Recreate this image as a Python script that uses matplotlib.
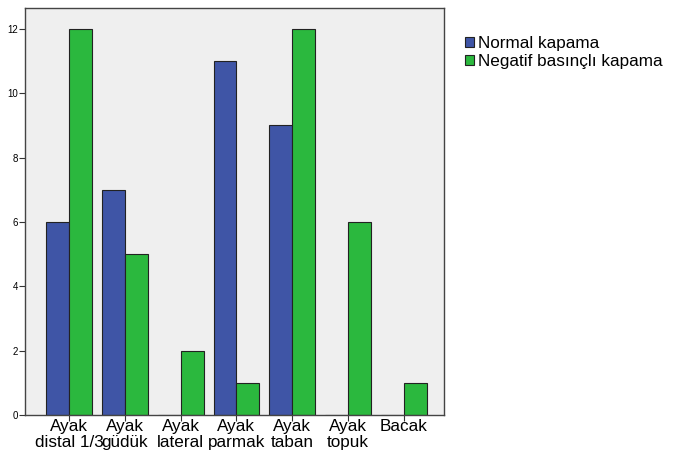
import numpy as np
import matplotlib
matplotlib.use("Agg")
import matplotlib.pyplot as plt

plt.rcParams['font.family'] = ['Liberation Sans', 'DejaVu Sans']

categories = ["Ayak\ndistal 1/3", "Ayak\ngüdük", "Ayak\nlateral", "Ayak\nparmak",
              "Ayak\ntaban", "Ayak\ntopuk", "Bacak"]
normal = [6, 7, 0, 11, 9, 0, 0]
negatif = [12, 5, 2, 1, 12, 6, 1]
series_names = ["Normal kapama", "Negatif basınçlı kapama"]

fig = plt.figure(figsize=(6.75, 4.59), dpi=100)
ax = fig.add_axes([25 / 675, 1 - 415 / 459, 419 / 675, 407 / 459])
ax.set_facecolor("#efefef")

x = np.arange(len(categories))
w = 0.41
ax.bar(x - w / 2, normal, w, color="#3f55a6", edgecolor="#222222", linewidth=0.8,
       label=series_names[0])
ax.bar(x + w / 2, negatif, w, color="#2bb83e", edgecolor="#222222", linewidth=0.8,
       label=series_names[1])

ax.set_xlim(-0.79, 6.72)
ax.set_ylim(0, 12.65)
ax.set_yticks([0, 2, 4, 6, 8, 10, 12])
ax.set_xticks(x)
ax.set_xticklabels(categories, fontsize=12.3, linespacing=1.1)
ax.tick_params(axis="y", labelsize=7, length=4, width=0.8, color="#333333", pad=1)
ax.tick_params(axis="x", length=4, width=0.8, color="#333333", pad=-1)
for s in ax.spines.values():
    s.set_color("#444444")
    s.set_linewidth(1.0)

leg = fig.legend(loc="upper left", bbox_to_anchor=(458 / 675, 1 - 29 / 459),
                 frameon=False, fontsize=12.3, handlelength=0.55, handleheight=0.55,
                 handletextpad=0.25, labelspacing=0.2, borderaxespad=0)

fig.savefig("out.png", dpi=100)
